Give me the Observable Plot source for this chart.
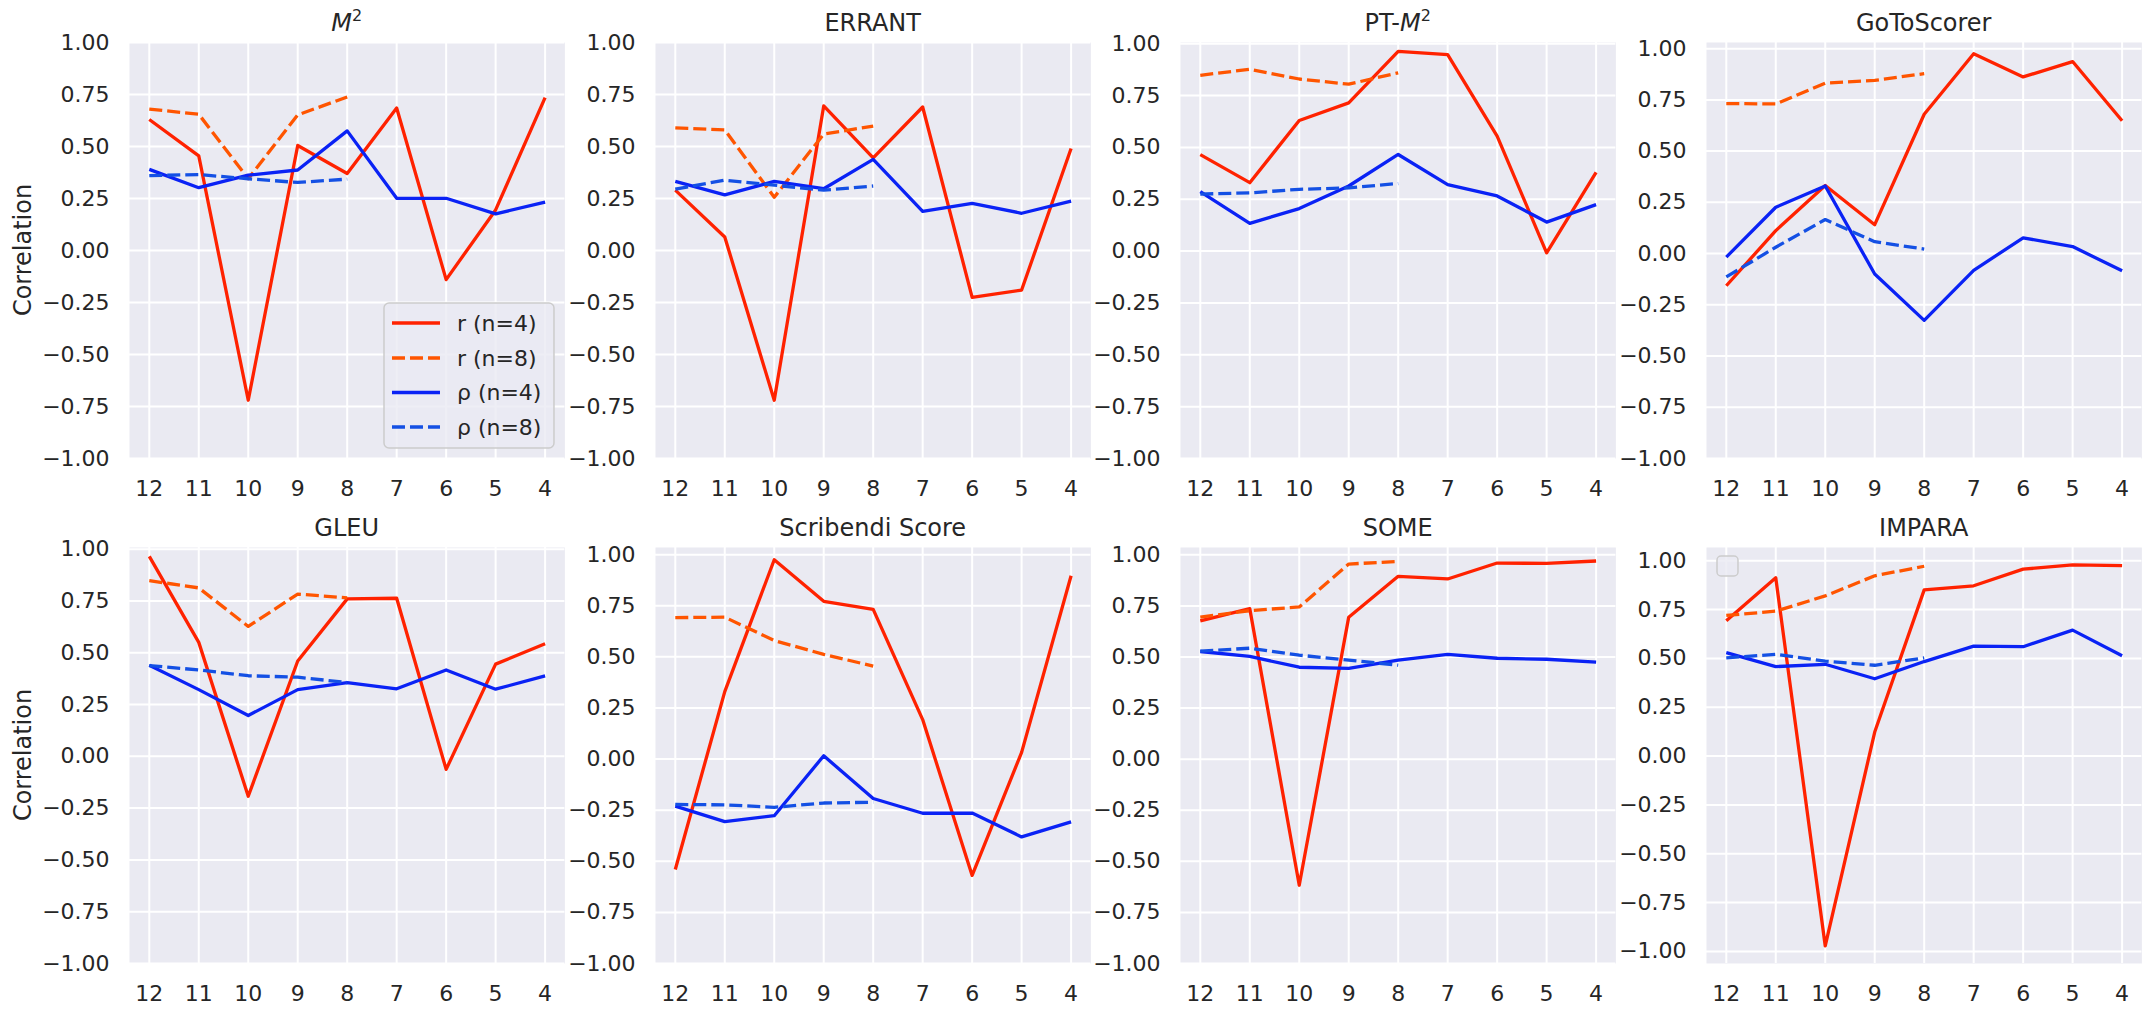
<!DOCTYPE html>
<html>
<head>
<meta charset="utf-8">
<script src="https://cdn.jsdelivr.net/npm/d3@7"></script>
<script src="https://cdn.jsdelivr.net/npm/@observablehq/plot@0.6"></script>
<style>
  html, body { margin: 0; padding: 0; background: #ffffff; }
  #root { position: relative; width: 2152px; height: 1014px; font-family: "DejaVu Sans", sans-serif; }
  #root svg { position: absolute; overflow: visible; }
</style>
</head>
<body>
<div id="root"></div>
<script>
// ---- data ----
const sizes = [12, 11, 10, 9, 8, 7, 6, 5, 4];
const sizesN8 = [12, 11, 10, 9, 8];
const titles = ["$M^2$", "ERRANT", "PT-$M^2$", "GoToScorer", "GLEU", "Scribendi Score", "SOME", "IMPARA"];
const yTicks = [-1, -0.75, -0.5, -0.25, 0, 0.25, 0.5, 0.75, 1];
const seriesLabels = ["r (n=4)", "r (n=8)", "ρ (n=4)", "ρ (n=8)"];
const seriesColors = ["#ff2200", "#ff5500", "#0a22f5", "#1450e4"];

// Pearson r, n=4 (x = 12..4)
const pearson4 = [
  [0.63, 0.455, -0.72, 0.505, 0.37, 0.685, -0.14, 0.195, 0.735],
  [0.29, 0.065, -0.72, 0.695, 0.445, 0.69, -0.225, -0.19, 0.49],
  [0.465, 0.33, 0.63, 0.715, 0.963, 0.948, 0.555, -0.008, 0.38],
  [-0.157, 0.112, 0.332, 0.141, 0.68, 0.975, 0.862, 0.937, 0.648],
  [0.965, 0.55, -0.193, 0.46, 0.76, 0.763, -0.063, 0.445, 0.543],
  [-0.54, 0.33, 0.975, 0.772, 0.732, 0.193, -0.569, 0.033, 0.897],
  [0.677, 0.737, -0.617, 0.695, 0.895, 0.882, 0.96, 0.958, 0.97],
  [0.693, 0.913, -0.972, 0.123, 0.851, 0.872, 0.957, 0.979, 0.975]
];
// Pearson r, n=8 (x = 12..8)
const pearson8 = [
  [0.68, 0.655, 0.345, 0.652, 0.738],
  [0.59, 0.58, 0.256, 0.56, 0.598],
  [0.848, 0.877, 0.83, 0.805, 0.86],
  [0.732, 0.73, 0.832, 0.845, 0.878],
  [0.848, 0.813, 0.627, 0.783, 0.765],
  [0.692, 0.694, 0.58, 0.512, 0.455],
  [0.695, 0.727, 0.745, 0.955, 0.968],
  [0.72, 0.742, 0.82, 0.923, 0.972]
];
// Spearman rho, n=4
const spearman4 = [
  [0.39, 0.302, 0.362, 0.387, 0.575, 0.251, 0.251, 0.176, 0.233],
  [0.332, 0.267, 0.332, 0.297, 0.438, 0.188, 0.227, 0.179, 0.237],
  [0.287, 0.134, 0.205, 0.314, 0.466, 0.321, 0.266, 0.14, 0.224],
  [-0.017, 0.226, 0.33, -0.1, -0.326, -0.082, 0.077, 0.034, -0.084],
  [0.44, 0.322, 0.197, 0.322, 0.356, 0.326, 0.417, 0.324, 0.388],
  [-0.23, -0.306, -0.277, 0.016, -0.193, -0.265, -0.264, -0.381, -0.307],
  [0.527, 0.503, 0.45, 0.444, 0.485, 0.513, 0.494, 0.489, 0.475],
  [0.53, 0.458, 0.47, 0.396, 0.484, 0.563, 0.56, 0.645, 0.514]
];
// Spearman rho, n=8
const spearman8 = [
  [0.36, 0.365, 0.345, 0.327, 0.343],
  [0.295, 0.338, 0.314, 0.29, 0.31],
  [0.275, 0.281, 0.298, 0.305, 0.326],
  [-0.114, 0.031, 0.166, 0.058, 0.022],
  [0.438, 0.417, 0.389, 0.382, 0.356],
  [-0.222, -0.224, -0.236, -0.215, -0.211],
  [0.529, 0.543, 0.509, 0.485, 0.46],
  [0.503, 0.521, 0.486, 0.465, 0.503]
];
// y-axis limits per panel
const yLow  = [-1, -1, -1, -1, -1, -1, -1, -1.062];
const yHigh = [1, 1, 1.006, 1.03, 1.008, 1.035, 1.036, 1.068];

// ---- layout ----
const plotW = 435.4, plotH = 416, colStep = 525.5, firstLeft = 129;
const root = document.getElementById("root");
const textColor = "#262626";
const lw = 3.3;

function renderTitle(sel, str) {
  const parts = str.split(/(\$M\^2\$)/).filter(s => s.length);
  parts.forEach(p => {
    if (p === "$M^2$") {
      sel.append("tspan").attr("font-style", "italic").text("M");
      sel.append("tspan").attr("font-size", 16).attr("dy", -10).text("2");
    } else {
      sel.append("tspan").text(p);
    }
  });
}

for (let i = 0; i < 8; i++) {
  const row = Math.floor(i / 4), col = i % 4;
  const absLeft = firstLeft + col * colStep;
  const svgLeft = col === 0 ? 0 : absLeft - 95;
  const mL = absLeft - svgLeft;
  const mR = 10;
  const svgTop = row === 0 ? 0 : 506;
  const mT = row === 0 ? 42 : 41;
  const mB = row === 0 ? 48 : 51;
  const W = mL + plotW + mR;
  const H = mT + plotH + mB;

  const d4r = sizes.map((s, j) => ({x: s, y: pearson4[i][j]}));
  const d8r = sizesN8.map((s, j) => ({x: s, y: pearson8[i][j]}));
  const d4p = sizes.map((s, j) => ({x: s, y: spearman4[i][j]}));
  const d8p = sizesN8.map((s, j) => ({x: s, y: spearman8[i][j]}));

  const svg = Plot.plot({
    width: W, height: H,
    marginLeft: mL, marginRight: mR, marginTop: mT, marginBottom: mB,
    style: {background: "transparent", fontFamily: "DejaVu Sans", fontSize: "22px", color: textColor, overflow: "visible"},
    x: {type: "linear", domain: [12.4, 3.6], ticks: sizes, tickFormat: d => String(d), tickSize: 0, tickPadding: 22, label: null},
    y: {domain: [yLow[i], yHigh[i]], ticks: yTicks, tickFormat: ".2f", tickSize: 0, tickPadding: 20, label: null},
    marks: [
      Plot.frame({fill: "#eaeaf2", stroke: null}),
      Plot.ruleY(yTicks, {stroke: "#ffffff", strokeWidth: 2, strokeOpacity: 1}),
      Plot.ruleX(sizes, {stroke: "#ffffff", strokeWidth: 2, strokeOpacity: 1}),
      Plot.line(d4r, {x: "x", y: "y", stroke: seriesColors[0], strokeWidth: lw, strokeLinejoin: "round", strokeLinecap: "butt"}),
      Plot.line(d8r, {x: "x", y: "y", stroke: seriesColors[1], strokeWidth: lw, strokeDasharray: "13,5", strokeLinecap: "butt"}),
      Plot.line(d4p, {x: "x", y: "y", stroke: seriesColors[2], strokeWidth: lw, strokeLinejoin: "round", strokeLinecap: "butt"}),
      Plot.line(d8p, {x: "x", y: "y", stroke: seriesColors[3], strokeWidth: lw, strokeDasharray: "13,5", strokeLinecap: "butt"})
    ]
  });
  svg.style.left = svgLeft + "px";
  svg.style.top = svgTop + "px";
  root.appendChild(svg);

  const s = d3.select(svg);

  // panel title
  const t = s.append("text")
    .attr("x", mL + plotW / 2)
    .attr("y", mT - 11)
    .attr("text-anchor", "middle")
    .attr("font-size", 24)
    .attr("font-family", "DejaVu Sans")
    .attr("fill", textColor);
  renderTitle(t, titles[i]);

  // y-axis label on first column
  if (col === 0) {
    const cy = mT + plotH / 2;
    s.append("text")
      .attr("transform", `translate(31,${cy}) rotate(-90)`)
      .attr("text-anchor", "middle")
      .attr("font-size", 24)
      .attr("font-family", "DejaVu Sans")
      .attr("fill", textColor)
      .text("Correlation");
  }

  // legend in first panel
  if (i === 0) {
    const lg = s.append("g").attr("text-anchor", "start");
    lg.append("rect")
      .attr("x", 384).attr("y", 303).attr("width", 170).attr("height", 145)
      .attr("rx", 5).attr("fill", "#eaeaf2").attr("fill-opacity", 0.8)
      .attr("stroke", "#cccccc").attr("stroke-width", 1.5);
    const rowsY = [323, 358, 392.5, 427];
    seriesLabels.forEach((lab, k) => {
      lg.append("line")
        .attr("x1", 392).attr("x2", 440).attr("y1", rowsY[k]).attr("y2", rowsY[k])
        .attr("stroke", seriesColors[k]).attr("stroke-width", lw)
        .attr("stroke-dasharray", k % 2 === 1 ? "13,5" : null);
      lg.append("text")
        .attr("x", 457).attr("y", rowsY[k]).attr("dy", "0.36em")
        .attr("text-anchor", "start")
        .attr("font-size", 22).attr("font-family", "DejaVu Sans")
        .attr("fill", textColor).text(lab);
    });
  }
  // empty legend box in last panel
  if (i === 7) {
    s.append("rect")
      .attr("x", 1716.5 - svgLeft).attr("y", 556 - svgTop).attr("width", 21).attr("height", 20)
      .attr("rx", 4).attr("fill", "#eaeaf2").attr("fill-opacity", 0.8)
      .attr("stroke", "#cccccc").attr("stroke-width", 1.5);
  }
}
</script>
</body>
</html>
